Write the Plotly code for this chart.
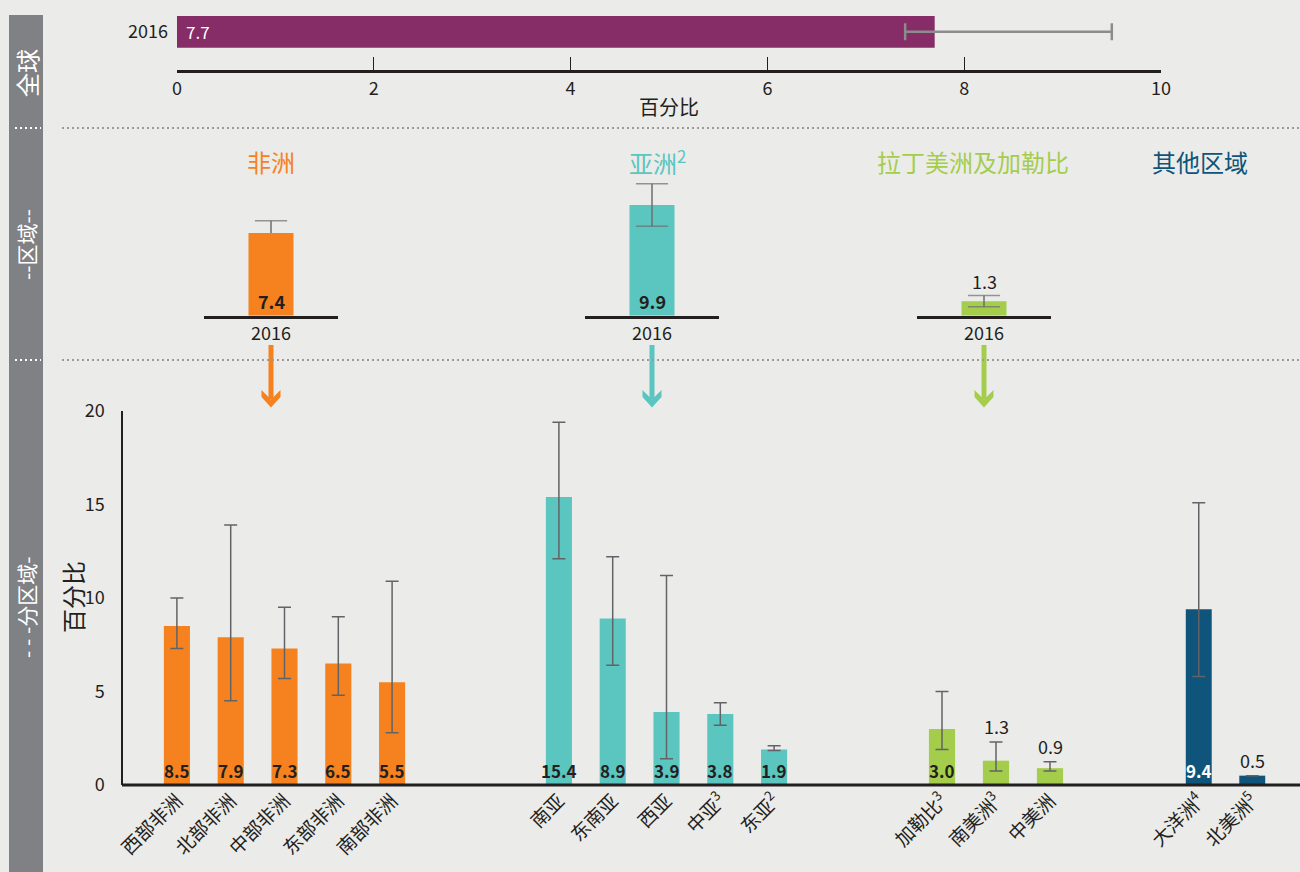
import plotly.graph_objects as go

# ---------------- data ----------------
global_year = ["2016"]
global_value = [7.7]
global_lo = [7.4]
global_hi = [9.5]

region_headers = ["非洲", "亚洲<sup>2</sup>", "拉丁美洲及加勒比", "其他区域"]
region_year = ["2016"]
region_values = [7.4, 9.9, 1.3]
region_lo = [None, 8.0, 0.8]      # lower bound of Africa not drawn
region_hi = [8.5, 11.8, 1.8]

africa_cats = ["西部非洲", "北部非洲", "中部非洲", "东部非洲", "南部非洲"]
africa_vals = [8.5, 7.9, 7.3, 6.5, 5.5]
africa_lo = [7.3, 4.5, 5.7, 4.8, 2.8]
africa_hi = [10.0, 13.9, 9.5, 9.0, 10.9]

asia_cats = ["南亚", "东南亚", "西亚", "中亚<sup>3</sup>", "东亚<sup>2</sup>"]
asia_vals = [15.4, 8.9, 3.9, 3.8, 1.9]
asia_lo = [12.1, 6.4, 1.4, 3.2, 1.85]
asia_hi = [19.4, 12.2, 11.2, 4.4, 2.1]

lac_cats = ["加勒比<sup>3</sup>", "南美洲<sup>3</sup>", "中美洲"]
lac_vals = [3.0, 1.3, 0.9]
lac_lo = [1.9, 0.75, 0.75]
lac_hi = [5.0, 2.3, 1.25]

other_cats = ["大洋洲<sup>4</sup>", "北美洲<sup>5</sup>"]
other_vals = [9.4, 0.5]
other_lo = [5.8, None]
other_hi = [15.1, None]

# ---------------- style ----------------
W, H = 1300, 872
BG = "#EBECEA"
DARK = "#231F20"
ORANGE = "#F5821F"
TEAL = "#5BC5BF"
GREEN = "#A5CD4C"
NAVY = "#0F547A"
PURPLE = "#862C67"
SIDE = "#808184"
NUM = "Noto Sans CJK SC, Liberation Sans Narrow, sans-serif"
CJK = "Noto Sans CJK SC, sans-serif"


def numfont(size, color=DARK, bold=False):
    d = dict(family=NUM, size=size, color=color)
    if bold:
        d["weight"] = "bold"
    return d


def PX(x):
    return x / W


def PY(y):
    return 1 - y / H


def note(x, y, text, **kw):
    d = dict(x=x, y=y, text=text, showarrow=False, xanchor="center", yanchor="middle")
    d.update(kw)
    return d


fig = go.Figure()
annotations = []
shapes = []

# ---------------- global panel ----------------
fig.add_trace(go.Bar(
    x=global_value, y=global_year, orientation="h",
    xaxis="x8", yaxis="y3", marker=dict(color=PURPLE, line=dict(width=0)),
    width=0.79,
    error_x=dict(type="data", symmetric=False,
                 array=[h - v for h, v in zip(global_hi, global_value)],
                 arrayminus=[v - l for l, v in zip(global_lo, global_value)],
                 color="#8C8C8C", thickness=2.5, width=8.5),
    hoverinfo="skip", showlegend=False))
# category index 0 on the y3 axis
annotations.append(note(0, 0, f"{global_value[0]:.1f}", xref="x8", yref="y3",
                        xanchor="left", xshift=7,
                        font=numfont(17, "white")))
annotations.append(note(PX(669), PY(107), "百分比", xref="paper", yref="paper",
                        font=dict(family=CJK, size=20, color=DARK)))

# ---------------- region panel ----------------
region_colors = [ORANGE, TEAL, GREEN]
region_axes = ["x5", "x6", "x7"]
for i, (v, lo, hi) in enumerate(zip(region_values, region_lo, region_hi)):
    xa = region_axes[i]
    fig.add_trace(go.Bar(
        x=region_year, y=[v], xaxis=xa, yaxis="y2", width=0.336,
        marker=dict(color=region_colors[i], line=dict(width=0)),
        hoverinfo="skip", showlegend=False))
    start = lo if lo is not None else v
    fig.add_trace(go.Scatter(
        x=region_year * 2, y=[start, hi], xaxis=xa, yaxis="y2",
        mode="lines+markers",
        line=dict(color="#6D6E70", width=1.5),
        marker=dict(symbol="line-ew-open",
                    size=[23 if lo is not None else 0, 23],
                    line=dict(color="#6D6E70", width=1.5)),
        hoverinfo="skip", showlegend=False))
    if v >= 1.5:
        annotations.append(note(0, 0, f"{v:.1f}", xref=xa, yref="y2",
                                yanchor="bottom", yshift=0,
                                font=numfont(18, bold=True)))
    else:
        annotations.append(note(0, hi, f"{v:.1f}", xref=xa, yref="y2",
                                yanchor="bottom", yshift=0,
                                font=numfont(18)))

header_pos = [271, 657, 973, 1200]
header_colors = [ORANGE, TEAL, GREEN, NAVY]
for name, xp, c in zip(region_headers, header_pos, header_colors):
    annotations.append(note(PX(xp), PY(162), name, xref="paper", yref="paper",
                            font=dict(family=CJK, size=24, color=c)))

# arrows below region panels
for xc, c in zip([271, 652, 984], region_colors):
    shapes.append(dict(type="line", xref="paper", yref="paper",
                       x0=PX(xc), x1=PX(xc), y0=PY(345), y1=PY(399),
                       line=dict(color=c, width=5)))
    pts = [(xc - 9.5, 390), (xc, 399.5), (xc + 9.5, 390), (xc + 9.5, 397),
           (xc, 407.5), (xc - 9.5, 397)]
    path = "M " + " L ".join(f"{PX(a):.5f},{PY(b):.5f}" for a, b in pts) + " Z"
    shapes.append(dict(type="path", xref="paper", yref="paper", path=path,
                       fillcolor=c, line=dict(width=0)))

# ---------------- sub-region panel ----------------
groups = [
    (africa_cats, africa_vals, africa_lo, africa_hi, ORANGE, "x"),
    (asia_cats, asia_vals, asia_lo, asia_hi, TEAL, "x2"),
    (lac_cats, lac_vals, lac_lo, lac_hi, GREEN, "x3"),
    (other_cats, other_vals, other_lo, other_hi, NAVY, "x4"),
]
for cats, vals, los, his, col, xa in groups:
    fig.add_trace(go.Bar(
        x=cats, y=vals, xaxis=xa, yaxis="y", width=0.485,
        marker=dict(color=col, line=dict(width=0)),
        error_y=dict(type="data", symmetric=False,
                     array=[(h - v) if h is not None else None for h, v in zip(his, vals)],
                     arrayminus=[(v - l) if l is not None else None for l, v in zip(los, vals)],
                     color="#626366", thickness=1.5, width=6.5),
        hoverinfo="skip", showlegend=False))
    for c, v, h in zip(cats, vals, his):
        if v >= 1.5:
            annotations.append(note(c, 0, f"{v:.1f}", xref=xa, yref="y",
                                    yanchor="bottom", yshift=0,
                                    font=numfont(17, "white" if col == NAVY else DARK, bold=True)))
        else:
            annotations.append(note(c, h if h is not None else v, f"{v:.1f}", xref=xa, yref="y",
                                    yanchor="bottom", yshift=1,
                                    font=numfont(18)))

annotations.append(note(PX(72), PY(597), "百分比", xref="paper", yref="paper", textangle=-90,
                        font=dict(family=CJK, size=24, color=DARK)))

# ---------------- sidebar ----------------
shapes.append(dict(type="rect", xref="paper", yref="paper", layer="below",
                   x0=PX(9), x1=PX(43), y0=PY(872), y1=PY(15),
                   fillcolor=SIDE, line=dict(width=0)))
for yy in [128, 360]:
    shapes.append(dict(type="line", xref="paper", yref="paper",
                       x0=PX(15), x1=PX(41), y0=PY(yy), y1=PY(yy),
                       line=dict(color="white", width=2, dash="2px,3px")))
    shapes.append(dict(type="line", xref="paper", yref="paper",
                       x0=PX(62), x1=PX(1300), y0=PY(yy), y1=PY(yy),
                       line=dict(color="#9A9B9D", width=2, dash="2px,3px")))
side_labels = [("全球", 73, 24), ("--区域--", 245, 21), ("- - -分区域-", 607, 21)]
for t, yy, fs in side_labels:
    annotations.append(note(PX(26), PY(yy), t, xref="paper", yref="paper", textangle=-90,
                            font=dict(family=CJK, size=fs, color="white")))

# bottom baseline
shapes.append(dict(type="line", xref="paper", yref="paper",
                   x0=PX(122), x1=PX(1300), y0=PY(785), y1=PY(785),
                   line=dict(color=DARK, width=3)))

# ---------------- axes ----------------
ydom_bottom = [PY(785), PY(411)]
ydom_region = [PY(315.7), PY(181.5)]
ydom_global = [PY(70), PY(10)]

cat_axis = dict(type="category", showline=False, showgrid=False, zeroline=False,
                ticks="", tickangle=-45, anchor="y", automargin=False,
                tickfont=dict(family=CJK, size=19, color=DARK), fixedrange=True)

layout_axes = dict(
    xaxis=dict(cat_axis, domain=[PX(150), PX(419)], range=[-0.5, 4.5]),
    xaxis2=dict(cat_axis, domain=[PX(532), PX(801)], range=[-0.5, 4.5]),
    xaxis3=dict(cat_axis, domain=[PX(915), PX(1077)], range=[-0.5, 2.5]),
    xaxis4=dict(cat_axis, domain=[PX(1172), PX(1279)], range=[-0.5, 1.5]),
    yaxis=dict(domain=ydom_bottom, range=[0, 20], anchor="free", position=PX(122),
               showline=True, linecolor=DARK, linewidth=1.5, showgrid=False,
               zeroline=False, tickvals=[0, 5, 10, 15, 20], ticks="",
               ticklabelstandoff=13, automargin=False,
               tickfont=numfont(18)),
    yaxis2=dict(domain=ydom_region, range=[0, 12], visible=False, anchor="x5",
                automargin=False),
)
reg_doms = [(204, 338), (585, 719), (917, 1051)]
for i, (a, b) in enumerate(reg_doms):
    layout_axes[f"xaxis{5 + i}"] = dict(
        type="category", domain=[PX(a), PX(b)], range=[-0.5, 0.5], anchor="y2",
        showline=True, linecolor=DARK, linewidth=3, showgrid=False, zeroline=False,
        ticks="", automargin=False, tickfont=numfont(18), fixedrange=True)
layout_axes["xaxis8"] = dict(domain=[PX(177), PX(1161)], range=[0, 10], anchor="y3",
                             showline=True, linecolor=DARK, linewidth=3,
                             showgrid=False, zeroline=False, dtick=2, automargin=False,
                             ticks="inside", ticklen=13, tickwidth=1, tickcolor=DARK,
                             tickfont=numfont(18))
layout_axes["yaxis3"] = dict(type="category", domain=ydom_global, range=[-0.954, 0.546],
                             anchor="x8", showline=False, showgrid=False, zeroline=False,
                             ticks="", ticklabelstandoff=8, automargin=False,
                             tickfont=numfont(18))

fig.update_layout(
    width=W, height=H, autosize=False,
    margin=dict(l=0, r=0, t=0, b=0, pad=0, autoexpand=False),
    paper_bgcolor=BG, plot_bgcolor="rgba(0,0,0,0)",
    showlegend=False, barmode="overlay",
    annotations=annotations, shapes=shapes,
    **layout_axes,
)

fig.write_html("out.html", config={"displayModeBar": False},
               post_script="document.body.style.margin='0';")
